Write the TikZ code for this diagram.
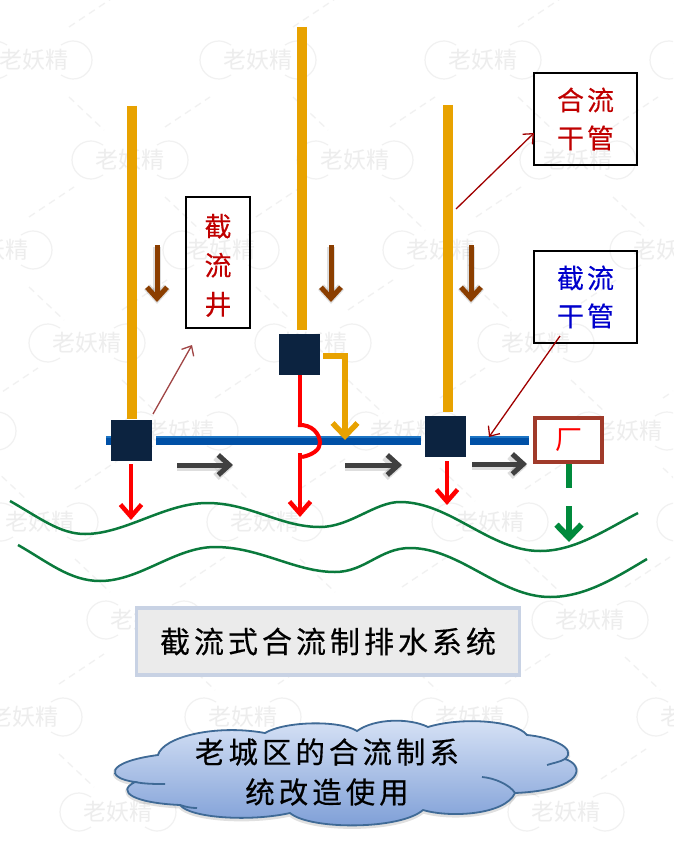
\documentclass[tikz,border=0pt]{standalone}
\usepackage{fontspec}
\setmainfont{Noto Sans CJK SC}
\newfontfamily\heavyf[FakeBold=0.35]{Noto Sans CJK SC}
\newfontfamily\midf[FakeBold=0.2]{Noto Sans CJK SC}
\usetikzlibrary{arrows.meta}
\definecolor{pipeor}{HTML}{E8A200}
\definecolor{wellc}{HTML}{0C2340}
\definecolor{bluep}{HTML}{0050A6}
\definecolor{bluel}{HTML}{1D75C4}
\definecolor{redl}{HTML}{FF0000}
\definecolor{brownl}{HTML}{8B3E00}
\definecolor{grayl}{HTML}{404040}
\definecolor{greenl}{HTML}{008A3C}
\definecolor{riverc}{HTML}{0A7A3C}
\definecolor{facb}{HTML}{A03A2A}
\definecolor{darkred}{HTML}{C00000}
\definecolor{thinred}{HTML}{A00000}
\definecolor{thinbr}{HTML}{A04545}
\definecolor{labblue}{HTML}{0000CC}
\definecolor{wm}{HTML}{F1F1F1}
\definecolor{wmt}{HTML}{EDEDED}
\definecolor{TB}{HTML}{C8D2E4}
\definecolor{TF}{HTML}{EBEBEB}
\definecolor{CT}{HTML}{D8E3F6}
\definecolor{CB}{HTML}{7C9DD6}
\definecolor{CE}{HTML}{3F6A96}
\newcommand{\gp}{\hspace{3pt}}
\newcommand{\gq}{\hspace{4pt}}
\newcommand{\wmdashes}{%
  \draw[wmdash] (35,37) -- (70,70);
  \draw[wmdash] (35,-33) -- (80,-63);}
\newcommand{\cloudoutline}{%
  (158,755) .. controls (163,737) and (215,724) .. (265,733)
  .. controls (285,721) and (340,720) .. (357,731)
  .. controls (375,718) and (410,718) .. (428,727)
  .. controls (460,717) and (515,720) .. (527,735)
  .. controls (550,737) and (578,748) .. (565,759)
  .. controls (585,765) and (585,790) .. (515,793)
  .. controls (505,815) and (450,818) .. (423,810)
  .. controls (400,830) and (310,830) .. (290,813)
  .. controls (250,822) and (190,818) .. (180,805)
  .. controls (135,803) and (115,792) .. (135,782)
  .. controls (105,778) and (105,762) .. (158,755) -- cycle}
\tikzset{
  x=1pt,y=-1pt,
  pipe/.style={draw=pipeor,line width=9.5pt},
  wellbox/.style={fill=wellc,minimum width=41pt,minimum height=41pt,inner sep=0pt,outer sep=0pt},
  bluepipe/.style={draw=bluep,line width=9pt,postaction={draw=bluel,line width=1.5pt,transform canvas={yshift=3.7pt}}},
  fbox/.style={draw=facb,line width=4pt,fill=white,minimum width=67pt,minimum height=44pt,inner sep=0pt,outer sep=2pt},
  labelbox/.style={draw=black,line width=1.6pt,inner sep=0pt,outer sep=0pt,align=center,font=\midf\fontsize{27}{38}\selectfont},
  redarrow/.style={draw=redl,line width=4.5pt,-{Straight Barb[length=12pt,width=21pt]}},
  orarrow/.style={draw=pipeor,line width=5.5pt,-{Straight Barb[length=13pt,width=25pt]}},
  soft/.style={preaction={draw=black,opacity=.13,line width=8pt,transform canvas={yshift=-2pt}}},
  brownarrow/.style={soft,draw=brownl,line width=5pt,-{Straight Barb[length=11pt,width=20pt]}},
  grayarrow/.style={soft,draw=grayl,line width=5pt,-{Straight Barb[length=11pt,width=20pt]}},
  greenarrow/.style={draw=greenl,line width=6pt,-{Straight Barb[length=13pt,width=25pt]}},
  greendash/.style={draw=greenl,line width=6pt},
  river/.style={draw=riverc,line width=2.5pt},
  thinarrow/.style={line width=1.3pt,-{Straight Barb[length=8pt,width=14pt]}},
  wmline/.style={draw=wm,line width=1.2pt},
  wmdash/.style={draw=wm,line width=1.3pt,dash pattern=on 7pt off 5pt},
  wmtext/.style={text=wmt,font=\fontsize{23}{24}\selectfont,inner sep=0pt},
  titlebox/.style={draw=TB,line width=3.5pt,fill=TF,minimum width=383pt,minimum height=67pt,inner sep=0pt,font=\heavyf\fontsize{30}{32}\selectfont},
  cloudtext/.style={align=center,inner sep=0pt,font=\heavyf\fontsize{29.5}{40}\selectfont},
  cloudline/.style={draw=CE,line width=1.8pt},
}
\begin{document}
\begin{tikzpicture}
\useasboundingbox (0,0) rectangle (673,845);
\clip (0,0) rectangle (673,845);
\fill[white] (0,0) rectangle (673,845);
% watermark
\foreach \cx/\cy [count=\n] in {34/60,258/60,483/60,708/60,
  130/160,355/160,578/160,
  -6/250,221/250,441/250,668/250,
  87/343,313/343,536/343,760/343,
  -42/431,180/431,405/431,628/431,
  40/522,265/522,490/522,715/522,
  145/620,590/620,
  24/717,243/717,470/717,695/717,
  118/812,566/812}{
  \begin{scope}[shift={(\cx,\cy)}]
    \node[wmtext] (wm\n) at (0,0) {老妖精};
    \draw[wmline] (-27,-15) .. controls (-32,-18) and (-36,-19) .. (-39,-19)
      .. controls (-50,-19) and (-58,-10) .. (-58,0)
      .. controls (-58,10) and (-50,19) .. (-39,19)
      .. controls (-36,19) and (-32,18) .. (-27,15);
    \draw[wmline] (27,-15) .. controls (32,-18) and (36,-19) .. (39,-19)
      .. controls (50,-19) and (58,-10) .. (58,0)
      .. controls (58,10) and (50,19) .. (39,19)
      .. controls (36,19) and (32,18) .. (27,15);
    \wmdashes
  \end{scope}
}
\foreach \cx/\cy in {367/620,342/812}{
  \begin{scope}[shift={(\cx,\cy)}]\wmdashes\end{scope}
}
% rivers
\draw[river] (10,501) .. controls (40,518) and (60,534) .. (85,534)
  .. controls (125,534) and (165,503) .. (207,503)
  .. controls (250,503) and (280,527) .. (320,527)
  .. controls (350,527) and (375,502) .. (400,502)
  .. controls (450,502) and (490,551) .. (540,551)
  .. controls (575,551) and (605,530) .. (638,513);
\draw[river] (18,545) .. controls (48,562) and (70,581) .. (100,581)
  .. controls (140,581) and (175,547) .. (215,547)
  .. controls (260,547) and (295,572) .. (335,572)
  .. controls (365,572) and (380,548) .. (410,548)
  .. controls (460,548) and (500,597) .. (550,597)
  .. controls (585,597) and (615,578) .. (647,559);
% pipes and wells
\coordinate (p1) at (132,106);
\coordinate (p2) at (302,27);
\coordinate (p3) at (448,105);
\coordinate (bl) at (106,440.5);
\node[wellbox] (w1) at (131.5,440.5) {};
\node[wellbox] (w2) at (299.5,354.5) {};
\node[wellbox] (w3) at (445.5,436.5) {};
\node[fbox] (fac) at (568.5,440) {};
\node[inner sep=0pt,text=redl,font=\fontsize{27}{30}\selectfont] (facl) at (fac.center) {厂};
\draw[pipe,shorten >=1pt] (p1) -- (p1 |- w1.north);
\draw[pipe,shorten >=4pt] (p2) -- (p2 |- w2.north);
\draw[pipe,shorten >=4pt] (p3) -- (p3 |- w3.north);
\draw[bluepipe] (bl) -- (w1.west |- bl);
\draw[bluepipe,shorten <=4pt,shorten >=4pt] (w1.east |- bl) -- (w3.west |- bl);
\draw[bluepipe,shorten <=4pt,shorten >=4pt] (w3.east |- bl) -- (fac.west |- bl);
% orange bypass
\coordinate (orc) at (345,356);
\coordinate (ort) at (345,440);
\draw[orarrow,shorten <=3pt] (w2.east |- orc) -- (orc) -- (ort);
% red
\coordinate (r1) at (131,464);
\coordinate (r1t) at (131,520);
\draw[redarrow] (r1) -- (r1t);
\coordinate (r2a) at (300,425);
\coordinate (r2b) at (300,453);
\coordinate (r2t) at (300,517);
\draw[draw=redl,line width=4.5pt] (w2.south -| r2a) -- (r2a);
\draw[draw=redl,line width=4pt] (298,425) .. controls (312,424) and (320,434) .. (320,443)
  .. controls (320,450) and (312,455) .. (302,457);
\draw[redarrow] (r2b) -- (r2t);
\coordinate (r3) at (447,461);
\coordinate (r3t) at (447,505);
\draw[redarrow] (r3) -- (r3t);
% brown
\foreach \x [count=\n] in {157,331,471}{
  \coordinate (ba\n) at (\x,245);
  \coordinate (bb\n) at (\x,302);
  \draw[brownarrow] (ba\n) -- (bb\n);
}
% gray
\coordinate (g1) at (177,465); \coordinate (g1t) at (233,465);
\coordinate (g2) at (345,465); \coordinate (g2t) at (402,465);
\coordinate (g3) at (472,464); \coordinate (g3t) at (527,464);
\draw[grayarrow] (g1) -- (g1t);
\draw[grayarrow] (g2) -- (g2t);
\draw[grayarrow] (g3) -- (g3t);
% green
\coordinate (gm) at (569,488);
\coordinate (gn) at (569,506);
\coordinate (gt) at (569,542);
\draw[greendash] (fac.south -| gm) -- (gm);
\draw[greenarrow] (gn) -- (gt);
% labels
\node[labelbox,text=darkred,minimum width=64pt,minimum height=131pt,font=\midf\fontsize{27}{39}\selectfont,text depth=0pt] (lw) at (218,262.5) {\rule{0pt}{26pt}截\\流\\井\rule[-7pt]{0pt}{7pt}};
\node[labelbox,text=darkred,minimum width=103pt,minimum height=92pt] (lh) at (585.5,119) {合\gp 流\\干\gp 管};
\node[labelbox,text=labblue,minimum width=103pt,minimum height=92pt] (lj) at (585.5,297) {截\gp 流\\干\gp 管};
% thin leaders
\coordinate (a1) at (153,414); \coordinate (a1t) at (192,345);
\coordinate (a2) at (456,209); \coordinate (a2t) at (534,133);
\coordinate (a3) at (560,336); \coordinate (a3t) at (489,437);
\draw[thinarrow,draw=thinbr] (a1) -- (a1t);
\draw[thinarrow,draw=thinred] (a2) -- (a2t);
\draw[thinarrow,draw=thinred] (a3) -- (a3t);
% title
\node[titlebox] (ttl) at (328,641.5) {截\gq 流\gq 式\gq 合\gq 流\gq 制\gq 排\gq 水\gq 系\gq 统};
% cloud
\draw[draw=black,opacity=.12,line width=4pt,transform canvas={yshift=-1.5pt}] \cloudoutline;
\path[draw=CE,line width=1.8pt,top color=CT,bottom color=CB] \cloudoutline;
\draw[cloudline] (135,782) .. controls (145,784) and (155,784) .. (165,784);
\draw[cloudline] (565,759) .. controls (560,762) and (553,763) .. (547,765);
\draw[cloudline] (515,793) .. controls (510,785) and (495,778) .. (482,777);
\draw[cloudline] (180,805) .. controls (186,807) and (191,808) .. (197,808);
\node[cloudtext] (ctx) at (327,772) {老\gq 城\gq 区\gq 的\gq 合\gq 流\gq 制\gq 系\\统\gq 改\gq 造\gq 使\gq 用};
\end{tikzpicture}
\end{document}
